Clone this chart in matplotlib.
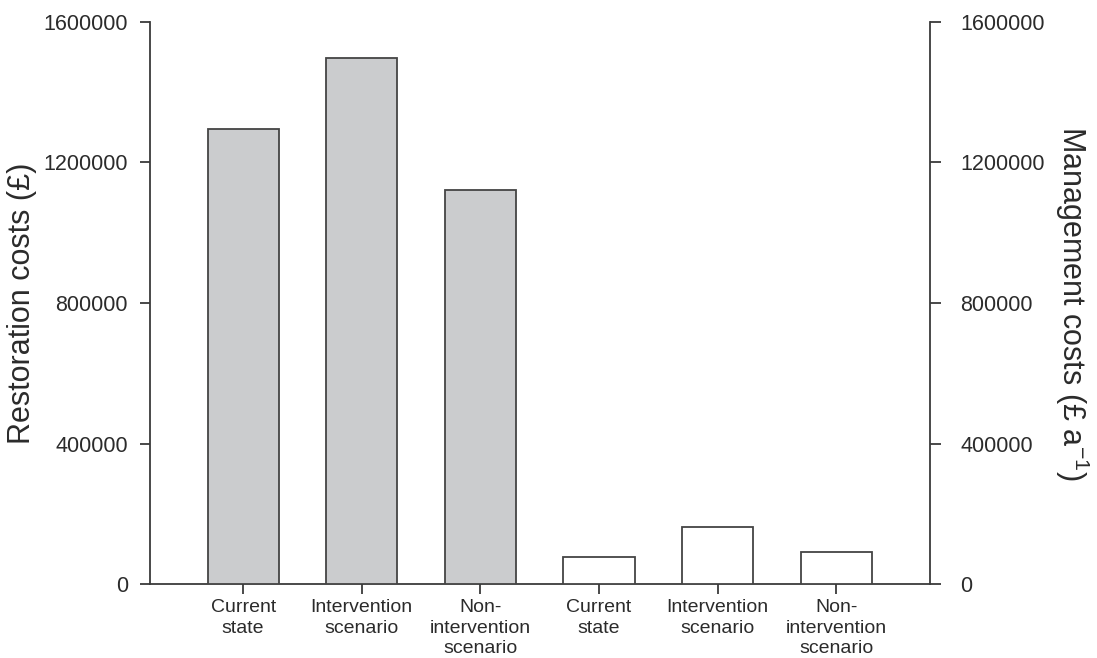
import matplotlib.pyplot as plt

plt.rcParams['font.family'] = ['Liberation Sans', 'DejaVu Sans']
plt.rcParams['mathtext.fontset'] = 'custom'
plt.rcParams['mathtext.rm'] = 'Liberation Sans'
plt.rcParams['mathtext.default'] = 'regular'

# data
labels = ['Current\nstate', 'Intervention\nscenario', 'Non-\nintervention\nscenario',
          'Current\nstate', 'Intervention\nscenario', 'Non-\nintervention\nscenario']
restoration = [1294000, 1498000, 1121000]
management = [76000, 161000, 92000]
yticks = [0, 400000, 800000, 1200000, 1600000]

txt = '#2b2b2b'
line = '#3a3a3a'

fig = plt.figure(figsize=(10.97, 6.58), dpi=100)
ax = fig.add_axes([150/1097, 74/658, 780/1097, 562/658])
ax2 = ax.twinx()

pos_r = [1, 2, 3]
pos_m = [4, 5, 6]
ax.bar(pos_r, restoration, width=0.6, color='#cbccce', edgecolor='#444444', linewidth=1.3, zorder=3)
ax2.bar(pos_m, management, width=0.6, color='white', edgecolor='#444444', linewidth=1.3, zorder=3)

for a in (ax, ax2):
    a.set_ylim(0, 1600000)
    a.set_yticks(yticks)
    a.set_yticklabels([str(v) for v in yticks])
    a.spines['top'].set_visible(False)
    for s in a.spines.values():
        s.set_color(line)
        s.set_linewidth(1.3)
ax.set_xlim(0.215, 6.79)
ax.spines['right'].set_visible(False)
ax2.spines['left'].set_visible(False)
ax2.spines['bottom'].set_visible(False)

ax.set_xticks(pos_r + pos_m)
ax.set_xticklabels(labels, fontsize=14, color=txt, linespacing=1.27)
ax.tick_params(axis='x', direction='out', length=7, width=1.3, color=line, pad=4)
ax.tick_params(axis='y', direction='out', length=7, width=1.3, color=line, pad=9,
               labelsize=15.5, labelcolor=txt)
ax2.tick_params(axis='y', direction='out', length=8, width=1.3, color=line, pad=14,
                labelsize=15.5, labelcolor=txt)

ax.set_ylabel('Restoration costs (£)', fontsize=22, color=txt)
ax.yaxis.set_label_coords(-0.145, 0.5)
ax2.set_ylabel('Management costs (£ a$^{-1}$)', fontsize=22, color=txt, rotation=270)
ax2.yaxis.set_label_coords(1.207, 0.5)

fig.savefig('out.png', dpi=100)
